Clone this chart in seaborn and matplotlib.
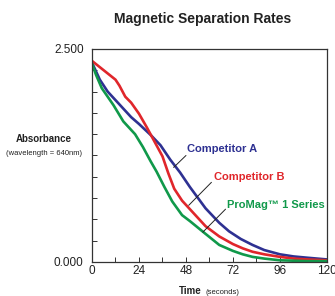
import seaborn as sns
import pandas as pd
import matplotlib.pyplot as plt
from matplotlib.ticker import MultipleLocator

# values
t_a = [0, 4, 8, 14, 20, 24, 30, 35, 40, 45, 50, 58, 65, 70, 76, 82, 88, 96, 103, 110, 120]
abs_a = [2.34, 2.14, 2.00, 1.85, 1.70, 1.62, 1.49, 1.37, 1.20, 1.05, 0.88, 0.63,
         0.46, 0.36, 0.27, 0.20, 0.14, 0.09, 0.065, 0.05, 0.03]

t_b = [0, 6, 12, 14, 17, 20, 24, 28, 32, 36, 39, 42, 46, 50, 58, 65, 72, 77, 82, 88,
       96, 103, 110, 120]
abs_b = [2.36, 2.25, 2.14, 2.07, 1.94, 1.87, 1.74, 1.58, 1.41, 1.24, 1.04, 0.86,
         0.72, 0.62, 0.42, 0.30, 0.21, 0.16, 0.12, 0.09, 0.06, 0.04, 0.03, 0.02]

t_p = [0, 2, 5, 8, 11, 16, 22, 26, 30, 33, 37, 41, 46, 50, 58, 65, 72, 77, 82, 88,
       96, 103, 110, 120]
abs_p = [2.33, 2.20, 2.04, 1.94, 1.84, 1.65, 1.50, 1.35, 1.18, 1.06, 0.88, 0.71,
         0.55, 0.48, 0.33, 0.20, 0.13, 0.09, 0.06, 0.04, 0.02, 0.015, 0.01, 0.01]

x_ticks = [0, 24, 48, 72, 96, 120]
y_ticks = [0.0, 2.5]

series = ['Competitor A', 'Competitor B', 'ProMag\u2122 1 Series']
colors = {'Competitor A': '#2e3192', 'Competitor B': '#e0262b',
          'ProMag\u2122 1 Series': '#10994a'}

df = pd.concat([
    pd.DataFrame({'time': t_a, 'absorbance': abs_a, 'series': series[0]}),
    pd.DataFrame({'time': t_b, 'absorbance': abs_b, 'series': series[1]}),
    pd.DataFrame({'time': t_p, 'absorbance': abs_p, 'series': series[2]}),
], ignore_index=True)

sns.set_style('ticks')
plt.rcParams['font.family'] = ['Liberation Sans', 'DejaVu Sans']

fig = plt.figure(figsize=(3.35, 2.96), dpi=100)
ax = fig.add_axes([0.2746, 0.1149, 0.7014, 0.7196])

sns.lineplot(data=df, x='time', y='absorbance', hue='series', palette=colors,
             linewidth=1.9, legend=False, ax=ax, sort=False)

ax.set_xlim(0, 120)
ax.set_ylim(0, 2.5)
ax.set_xticks(x_ticks)
ax.set_xticklabels([str(v) for v in x_ticks])
ax.set_yticks(y_ticks)
ax.set_yticklabels(['%.3f' % v for v in y_ticks])
ax.xaxis.set_minor_locator(MultipleLocator(12))
ax.yaxis.set_minor_locator(MultipleLocator(0.25))
ax.tick_params(axis='both', which='both', direction='in', length=3.5,
               width=0.7, labelsize=8.5, colors='#333333', labelcolor='#222222')
ax.tick_params(axis='y', which='major', length=0, pad=6)
ax.tick_params(axis='x', which='major', pad=2)
for s in ax.spines.values():
    s.set_visible(True)
    s.set_color('#333333')
    s.set_linewidth(0.9)
ax.set_xlabel('')
ax.set_ylabel('')

fig.text(0.605, 0.935, 'Magnetic Separation Rates', ha='center', va='center',
         fontsize=10, fontweight='bold', color='#222222')

fig.text(0.131, 0.53, 'Absorbance', ha='center', va='center',
         fontsize=7, fontweight='bold', color='#222222')
fig.text(0.13, 0.483, '(wavelength = 640nm)', ha='center', va='center',
         fontsize=5.5, color='#222222')

fig.text(0.603, 0.0, 'Time', ha='right', va='bottom',
         fontsize=7, fontweight='bold', color='#222222')
fig.text(0.612, 0.0, '(seconds)', ha='left', va='bottom',
         fontsize=5.5, color='#222222')

labels = [
    (series[0], 48.4, 1.33, (41.7, 1.11), (48.0, 1.25)),
    (series[1], 62.2, 1.00, (49.4, 0.665), (61.0, 0.935)),
    (series[2], 68.8, 0.67, (56.6, 0.35), (68.2, 0.62)),
]
for name, tx, ty, p0, p1 in labels:
    ax.plot([p0[0], p1[0]], [p0[1], p1[1]], color='#222222', linewidth=0.7)
    ax.text(tx, ty, name, color=colors[name], fontsize=8, fontweight='bold',
            ha='left', va='center')

fig.savefig('out.png', dpi=100)
